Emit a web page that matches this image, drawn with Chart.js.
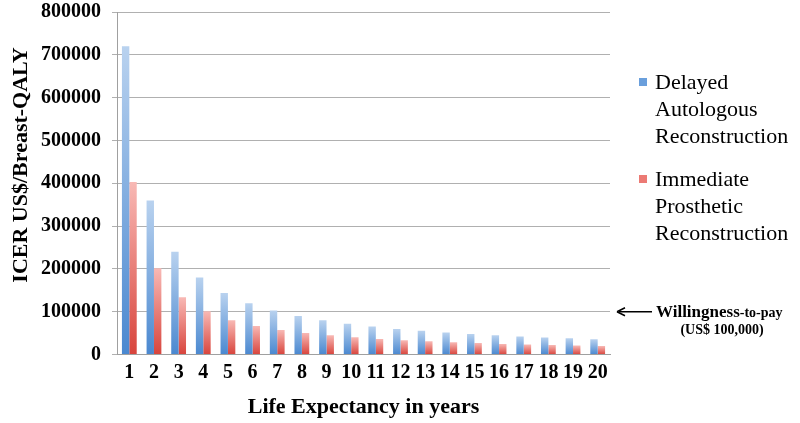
<!DOCTYPE html>
<html><head><meta charset="utf-8">
<script src="https://cdn.jsdelivr.net/npm/chart.js@4/dist/chart.umd.min.js"></script>
<style>
html,body{margin:0;padding:0;background:#fff;}
#wrap{position:relative;width:800px;height:423px;}
</style></head>
<body><div id="wrap"><canvas id="c" width="800" height="423"></canvas></div>
<script>
const categories = ["1","2","3","4","5","6","7","8","9","10","11","12","13","14","15","16","17","18","19","20"];
const delayedAutologous = [720000,360000,240000,180000,144000,120000,103000,90000,80000,72000,65500,60000,55500,51500,48000,45000,42500,40000,38000,36000];
const immediateProsthetic = [403000,201500,134000,101000,80500,67000,57500,50500,45000,40500,36500,33500,31000,29000,27000,25000,23500,22500,21000,20000];
const seriesNames = [["Delayed","Autologous","Reconstruction"],["Immediate","Prosthetic","Reconstruction"]];
const yTitle = "ICER US$/Breast-QALY";
const xTitle = "Life Expectancy in years";
const wtpValue = 100000;
const wtpLabel = ["Willingness","-to-pay","(US$ 100,000)"];

const SERIF = "'Liberation Serif','Times New Roman',serif";

function barGrad(ctx, top, bottom){
  const chart = ctx.chart;
  if(!chart.chartArea || !chart.scales.y) return bottom;
  const ys = chart.scales.y;
  const v = ctx.parsed ? ctx.parsed.y : ctx.raw;
  const y0 = ys.getPixelForValue(v);
  const y1 = ys.getPixelForValue(0);
  if(!isFinite(y0) || !isFinite(y1) || y0===y1) return bottom;
  const g = chart.ctx.createLinearGradient(0, y0, 0, y1);
  g.addColorStop(0, top);
  g.addColorStop(1, bottom);
  return g;
}

const overlay = {
  id:'overlay',
  afterDraw(chart){
    const c = chart.ctx;
    c.save();
    // y title
    c.save();
    c.translate(21, 165);
    c.rotate(-Math.PI/2);
    c.font = "bold 22px " + SERIF;
    c.fillStyle = "#000";
    c.textAlign = "center";
    c.textBaseline = "middle";
    c.fillText(yTitle, 0, 0);
    c.restore();
    // legend
    c.font = "22px " + SERIF;
    c.textBaseline = "middle";
    c.textAlign = "left";
    const cols = ["#6a9fdc","#ec7a74"];
    const starts = [83,180];
    for(let s=0;s<2;s++){
      c.fillStyle = cols[s];
      c.fillRect(639, starts[s]-5, 8, 8);
      c.fillStyle = "#000";
      seriesNames[s].forEach((t,i)=>c.fillText(t, 655, starts[s] + i*27));
    }
    // WTP annotation
    const y = chart.scales.y.getPixelForValue(wtpValue);
    c.strokeStyle = "#000"; c.lineWidth = 1.5;
    c.beginPath(); c.moveTo(619,y); c.lineTo(652,y); c.stroke();
    c.beginPath(); c.moveTo(617,y); c.lineTo(625,y-4); c.moveTo(617,y); c.lineTo(625,y+4); c.stroke();
    c.fillStyle="#000";
    c.textAlign="left";
    c.textBaseline="alphabetic";
    c.font = "bold 17px " + SERIF;
    c.fillText(wtpLabel[0], 656, y+5);
    const w = c.measureText(wtpLabel[0]).width;
    c.font = "bold 14px " + SERIF;
    c.fillText(wtpLabel[1], 656 + w, y+5);
    c.textAlign="center";
    c.fillText(wtpLabel[2], 722, y+22);
    c.restore();
  }
};

new Chart(document.getElementById('c'), {
  type:'bar',
  data:{
    labels:categories,
    datasets:[
      {label:seriesNames[0].join(' '), data:delayedAutologous,
       backgroundColor:ctx=>barGrad(ctx,"#b9d2ef","#4a88d0")},
      {label:seriesNames[1].join(' '), data:immediateProsthetic,
       backgroundColor:ctx=>barGrad(ctx,"#f8b9b5","#d8443c")}
    ]
  },
  options:{
    responsive:false,
    animation:false,
    devicePixelRatio:1,
    layout:{padding:{left:6,right:190,top:12,bottom:2}},
    datasets:{bar:{categoryPercentage:0.6,barPercentage:1.0,borderWidth:0}},
    plugins:{legend:{display:false},tooltip:{enabled:false}},
    scales:{
      x:{
        grid:{display:false,drawTicks:false},
        border:{color:"#a0a0a0"},
        ticks:{color:"#000",font:{family:SERIF,size:20,weight:'bold'},padding:6,maxRotation:0,autoSkip:false},
        title:{display:true,text:xTitle,color:"#000",font:{family:SERIF,size:22,weight:'bold'},padding:{top:4,bottom:0}}
      },
      y:{
        min:0,max:800000,
        grid:{color:"#b0b0b0",tickLength:5},
        border:{color:"#a0a0a0"},
        ticks:{stepSize:100000,color:"#000",font:{family:SERIF,size:20,weight:'bold'},padding:11,
               callback:v=>String(v)},
        title:{display:false},
        afterFit(s){ s.width = 111; s.paddingTop = 0; s.paddingBottom = 0; }
      }
    }
  },
  plugins:[overlay]
});
</script></body></html>
